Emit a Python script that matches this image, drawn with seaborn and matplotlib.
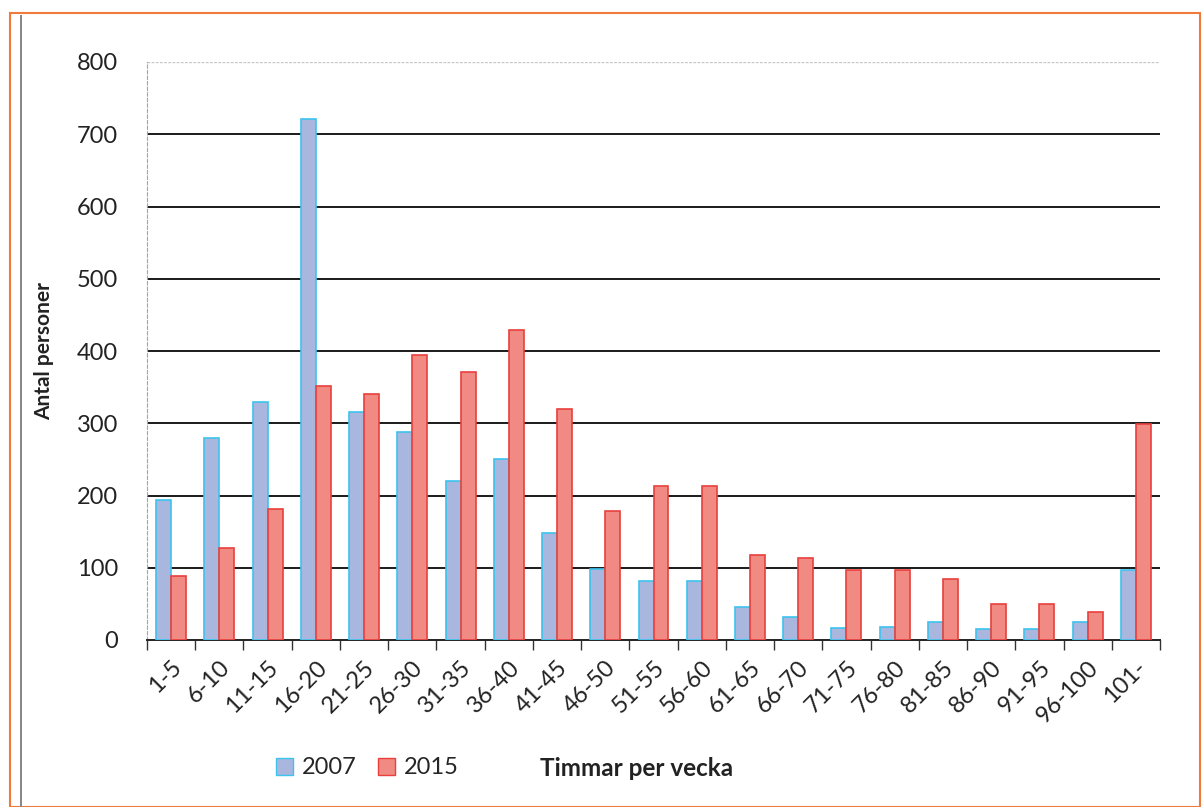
import matplotlib
matplotlib.use("Agg")
import matplotlib.pyplot as plt
import seaborn as sns
import pandas as pd
from matplotlib.patches import Rectangle, Patch

categories = ["1-5", "6-10", "11-15", "16-20", "21-25", "26-30", "31-35", "36-40",
              "41-45", "46-50", "51-55", "56-60", "61-65", "66-70", "71-75", "76-80",
              "81-85", "86-90", "91-95", "96-100", "101-"]
values_2007 = [194, 279, 330, 721, 315, 288, 220, 250, 148, 98, 81, 81, 45, 32, 16, 18, 25, 15, 15, 25, 97]
values_2015 = [89, 128, 182, 351, 340, 395, 371, 429, 320, 178, 213, 213, 117, 113, 97, 97, 84, 50, 50, 39, 299]
series = ["2007", "2015"]
yticks = [0, 100, 200, 300, 400, 500, 600, 700, 800]

df = pd.DataFrame({
    "Timmar": categories * 2,
    "År": [series[0]] * len(categories) + [series[1]] * len(categories),
    "Antal": values_2007 + values_2015,
})

sns.set_theme(style="white")
plt.rcParams['font.family'] = ['Lato', 'DejaVu Sans']

fig = plt.figure(figsize=(12.03, 8.07), dpi=100)
ax = fig.add_axes([147/1203, 1 - 640/807, (1160-147)/1203, (640-62)/807])

fill = {"2007": "#a9b6de", "2015": "#f28a84"}
edge = {"2007": "#3cc4ee", "2015": "#e8403c"}

sns.barplot(data=df, x="Timmar", y="Antal", hue="År", palette=fill,
            width=0.62, ax=ax, legend=False, saturation=1, zorder=3)

for i, cont in enumerate(ax.containers):
    for bar in cont:
        bar.set_edgecolor(edge[series[i]])
        bar.set_linewidth(1.2)

ax.set_ylim(0, 800)
ax.set_xlim(-0.5, len(categories) - 0.5)
ax.set_yticks(yticks)
ax.set_yticklabels([str(v) for v in yticks], fontsize=17, color="#222222")
ax.set_xticks(range(len(categories)))
ax.set_xticklabels(categories, rotation=45, ha="right", rotation_mode="anchor",
                   fontsize=17, color="#222222")
ax.tick_params(axis="x", which="major", length=0, pad=12)
ax.tick_params(axis="y", length=0, pad=21)
ax.set_xticks([i + 0.5 for i in range(-1, len(categories))], minor=True)
ax.tick_params(axis="x", which="minor", length=7, width=1, color="#333333", direction="out", bottom=True)

for v in yticks[1:-1]:
    ax.axhline(v, color="#1a1a1a", lw=1.4, zorder=1)
ax.axhline(800, color="#c8c8c8", lw=1.0, ls=(0, (2, 1)), zorder=1)

for s in ["top", "right"]:
    ax.spines[s].set_visible(False)
ax.spines["bottom"].set_color("#222222")
ax.spines["bottom"].set_linewidth(1.4)
ax.spines["left"].set_color("#b0a0a0")
ax.spines["left"].set_linewidth(0.8)
ax.spines["left"].set_linestyle((0, (3, 2)))

ax.set_xlabel("")
ax.set_ylabel("Antal personer", fontsize=15, fontweight="bold", color="#222222", labelpad=16)

handles = [Patch(facecolor=fill[s], edgecolor=edge[s], label=s) for s in series]
fig.legend(handles=handles, loc="center left", bbox_to_anchor=(255/1203, 1 - 768/807),
           ncol=2, frameon=False, fontsize=17, handlelength=0.7, handleheight=0.7,
           handletextpad=0.4, columnspacing=0.9)
fig.text(540/1203, 1 - 768/807, "Timmar per vecka", fontsize=17.5, fontweight="bold",
         color="#222222", va="center", ha="left")

fig.patches.append(Rectangle((10/1203, 0), (1200-10)/1203, 1 - 13/807, transform=fig.transFigure,
                             fill=False, edgecolor="#f07a3a", lw=1.5))
fig.patches.append(Rectangle((20/1203, 0), 2/1203, 1 - 15/807, transform=fig.transFigure,
                             facecolor="#888888", edgecolor="none"))

fig.savefig("out.png", dpi=100)
